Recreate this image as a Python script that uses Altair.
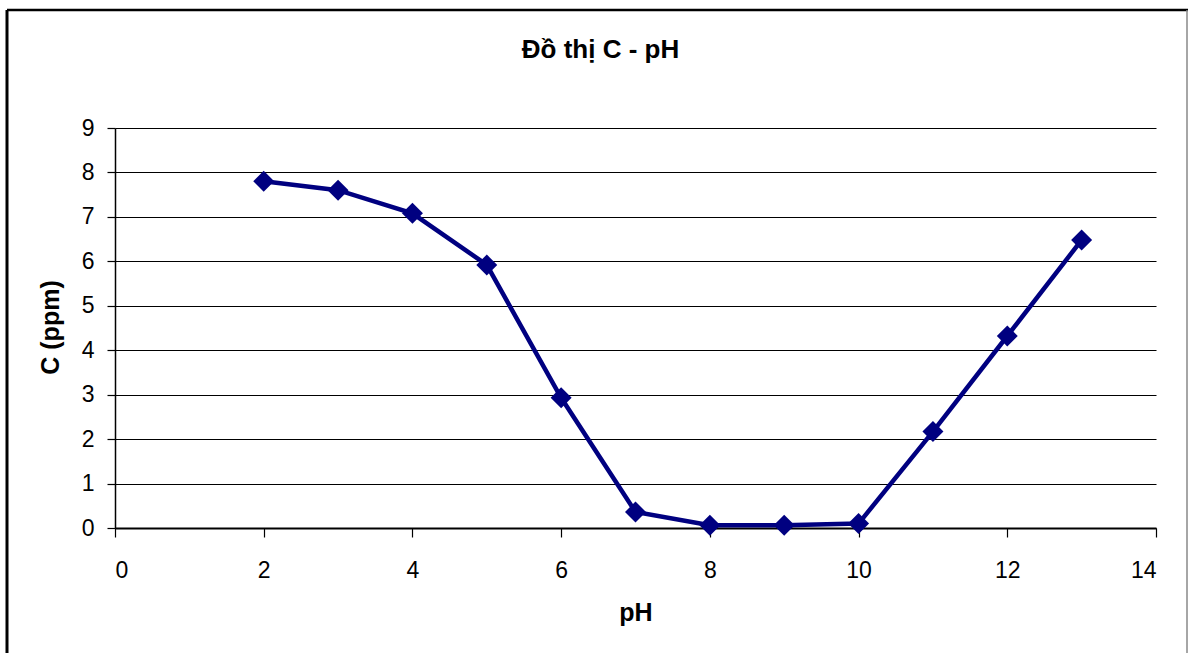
import altair as alt
import pandas as pd

ph = [2, 3, 4, 5, 6, 7, 8, 9, 10, 11, 12, 13]
conc = [7.8, 7.6, 7.08, 5.92, 2.93, 0.36, 0.06, 0.06, 0.1, 2.17, 4.32, 6.48]
x_ticks = [0, 2, 4, 6, 8, 10, 12, 14]
y_ticks = [0, 1, 2, 3, 4, 5, 6, 7, 8, 9]

df = pd.DataFrame({"pH": ph, "C": conc})
FONT = "Liberation Sans"
NAVY = "#000080"

x_enc = alt.X(
    "pH:Q",
    scale=alt.Scale(domain=[0, 14], nice=False),
    axis=alt.Axis(
        values=x_ticks, title="pH", grid=False,
        domainColor="black", domainWidth=2, tickColor="black", tickWidth=1.2,
        tickSize=9, labelPadding=22, labelFontSize=23, labelFont=FONT,
        labelColor="black", titleFont=FONT, titleFontSize=25, titleFontWeight="bold",
        titleColor="black", titleY=92, titleBaseline="alphabetic",
    ),
)
y_enc = alt.Y(
    "C:Q",
    scale=alt.Scale(domain=[0, 9], nice=False),
    axis=alt.Axis(
        values=y_ticks, title="C (ppm)", grid=True, gridColor="black", gridWidth=1.2,
        gridOpacity=1, domainColor="black", domainWidth=1.5, tickColor="black",
        tickWidth=1.2, tickSize=8, labelPadding=13, labelFontSize=23, labelFont=FONT,
        labelColor="black", titleFont=FONT, titleFontSize=25, titleFontWeight="bold",
        titleColor="black", titleX=-65, titleY=199, titleAngle=-90,
        titleAlign="center", titleBaseline="middle",
    ),
)

line = alt.Chart(df).mark_line(
    color=NAVY, strokeWidth=4.5,
    point=alt.OverlayMarkDef(shape="diamond", size=440, filled=True, color=NAVY, opacity=1),
).encode(x=x_enc, y=y_enc)

one = pd.DataFrame({"k": [0]})
top_border = alt.Chart(one).mark_rule(color="black", strokeWidth=2.5, clip=False).encode(
    x=alt.value(-108), x2=alt.value(1073), y=alt.value(-118))
left_border = alt.Chart(one).mark_rule(color="black", strokeWidth=3, clip=False).encode(
    x=alt.value(-108), y=alt.value(-118), y2=alt.value(530))
right_border = alt.Chart(one).mark_rule(color="#888888", strokeWidth=1.5, clip=False).encode(
    x=alt.value(1072), y=alt.value(-118), y2=alt.value(530))

chart = alt.layer(line, top_border, left_border, right_border).properties(
    width=1041,
    height=400,
    autosize=alt.AutoSizeParams(type="none"),
    padding={"left": 115, "top": 128, "right": 32, "bottom": 125},
    background="white",
    title=alt.TitleParams(
        "Đồ thị C - pH", font=FONT, fontSize=26, fontWeight="bold", color="black",
        anchor="middle", dx=-35, offset=-54,
    ),
).configure_view(stroke=None)

chart.save("out.html", embed_options={"renderer": "svg", "actions": False})
